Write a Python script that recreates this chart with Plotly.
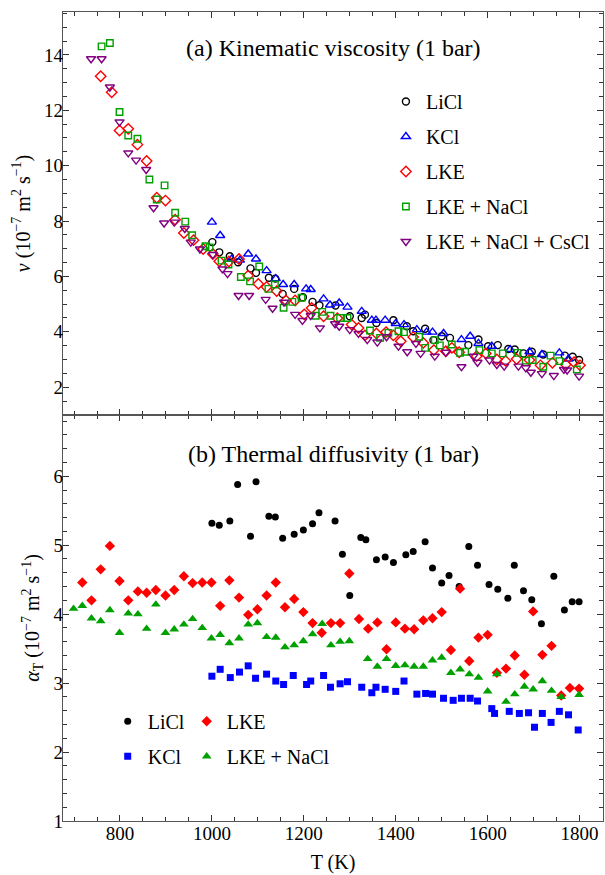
import plotly.graph_objects as go

# ---------------- data: (a) kinematic viscosity ----------------
licl_nu_T = [1001, 1016, 1039, 1057, 1084, 1096, 1124, 1138, 1154, 1179, 1198, 1219, 1234, 1269, 1300, 1326, 1333, 1358, 1395, 1424, 1438, 1464, 1482, 1500, 1518, 1558, 1580, 1601, 1622, 1645, 1659, 1678, 1696, 1721, 1768, 1785, 1799]
licl_nu = [7.24, 6.87, 6.73, 6.51, 6.29, 6.13, 5.95, 5.92, 5.37, 5.55, 5.25, 5.08, 4.96, 4.95, 4.56, 4.50, 4.62, 4.32, 4.42, 4.20, 4.02, 4.11, 3.70, 3.84, 3.78, 3.52, 3.72, 3.48, 3.52, 3.38, 3.36, 3.22, 3.28, 3.18, 3.14, 3.10, 2.98]

kcl_nu_T = [1000, 1018, 1043, 1061, 1079, 1096, 1119, 1139, 1155, 1179, 1205, 1215, 1243, 1257, 1277, 1295, 1326, 1348, 1357, 1377, 1400, 1418, 1446, 1467, 1480, 1504, 1543, 1562, 1580, 1609, 1649, 1691, 1718, 1756, 1776]
kcl_nu = [7.96, 7.48, 6.63, 6.59, 6.81, 6.63, 6.21, 5.92, 5.71, 5.71, 5.55, 5.53, 5.19, 4.97, 5.04, 4.89, 4.74, 4.42, 4.42, 4.42, 4.30, 4.26, 4.08, 3.99, 3.99, 3.94, 3.72, 3.84, 3.58, 3.48, 3.36, 3.28, 3.18, 3.24, 3.02]

lke_nu_T = [758, 782, 799, 818, 838, 858, 880, 899, 920, 939, 960, 981, 1002, 1016, 1037, 1059, 1079, 1101, 1119, 1141, 1161, 1181, 1201, 1217, 1243, 1273, 1304, 1319, 1333, 1358, 1379, 1395, 1411, 1438, 1460, 1483, 1509, 1522, 1538, 1576, 1596, 1620, 1639, 1663, 1691, 1715, 1741, 1770, 1788, 1801]
lke_nu = [13.23, 12.65, 11.27, 11.33, 10.76, 10.17, 8.84, 8.74, 8.05, 7.57, 7.31, 6.99, 6.81, 6.55, 6.54, 6.63, 6.03, 5.73, 5.62, 5.47, 5.13, 5.13, 4.63, 4.86, 4.56, 4.49, 4.26, 4.14, 3.87, 3.94, 3.99, 3.87, 3.66, 3.81, 3.60, 3.34, 3.30, 3.42, 3.26, 3.12, 3.22, 3.00, 2.95, 3.02, 2.98, 2.79, 2.88, 2.82, 2.90, 2.79]

lkena_nu_T = [760, 778, 799, 818, 838, 864, 880, 897, 920, 942, 957, 986, 995, 1021, 1036, 1063, 1083, 1103, 1123, 1137, 1156, 1175, 1195, 1226, 1240, 1258, 1279, 1295, 1344, 1366, 1384, 1406, 1418, 1451, 1464, 1485, 1496, 1522, 1540, 1551, 1582, 1609, 1633, 1665, 1683, 1698, 1721, 1737, 1756, 1794]
lkena_nu = [14.31, 14.43, 11.94, 11.09, 10.97, 9.50, 8.78, 9.29, 8.30, 7.98, 7.49, 7.09, 7.05, 6.57, 6.43, 5.98, 5.82, 6.36, 5.55, 5.71, 4.87, 5.08, 5.23, 4.58, 4.72, 4.58, 4.50, 4.50, 4.05, 3.78, 3.96, 4.02, 3.99, 3.82, 3.42, 3.70, 3.51, 3.54, 3.24, 3.28, 3.34, 3.22, 3.22, 3.24, 2.96, 2.98, 2.74, 3.14, 2.94, 2.64]

lkecs_nu_T = [737, 760, 778, 799, 818, 835, 857, 873, 896, 918, 941, 954, 974, 1002, 1023, 1034, 1058, 1081, 1117, 1132, 1157, 1181, 1197, 1215, 1235, 1268, 1277, 1300, 1319, 1338, 1360, 1380, 1406, 1425, 1444, 1454, 1485, 1509, 1543, 1569, 1578, 1604, 1620, 1636, 1667, 1683, 1694, 1718, 1744, 1766, 1773, 1799]
lkecs_nu = [13.86, 13.86, 12.84, 11.58, 10.46, 10.20, 9.86, 8.48, 7.93, 7.96, 7.73, 7.24, 6.99, 6.79, 6.27, 6.10, 5.31, 5.31, 5.17, 4.85, 5.07, 4.63, 4.41, 4.59, 4.14, 4.29, 4.20, 4.08, 3.94, 3.72, 3.63, 3.82, 3.48, 3.28, 3.58, 3.22, 3.12, 3.26, 2.74, 3.12, 2.90, 2.98, 2.82, 2.76, 2.76, 2.70, 2.54, 2.49, 2.42, 2.64, 2.62, 2.40]

# ---------------- data: (b) thermal diffusivity ----------------
licl_a_T = [1000, 1016, 1039, 1056, 1084, 1096, 1124, 1138, 1154, 1179, 1199, 1219, 1233, 1268, 1284, 1300, 1324, 1335, 1358, 1377, 1395, 1422, 1438, 1464, 1480, 1500, 1516, 1538, 1559, 1578, 1603, 1622, 1644, 1658, 1678, 1696, 1717, 1744, 1767, 1784, 1799]
licl_a = [5.32, 5.29, 5.35, 5.88, 5.13, 5.92, 5.42, 5.41, 5.10, 5.16, 5.22, 5.31, 5.47, 5.35, 4.87, 4.27, 5.11, 5.08, 4.79, 4.83, 4.75, 4.86, 4.91, 5.05, 4.67, 4.45, 4.56, 4.40, 4.98, 4.71, 4.43, 4.36, 4.23, 4.71, 4.34, 4.21, 3.86, 4.55, 4.06, 4.18, 4.18]

kcl_a_T = [1000, 1018, 1040, 1060, 1079, 1095, 1119, 1139, 1156, 1177, 1206, 1215, 1243, 1258, 1279, 1295, 1326, 1348, 1357, 1377, 1400, 1418, 1446, 1465, 1480, 1504, 1525, 1543, 1562, 1578, 1609, 1615, 1647, 1669, 1689, 1702, 1719, 1738, 1756, 1776, 1797]
kcl_a = [3.10, 3.20, 3.08, 3.16, 3.25, 3.07, 3.13, 3.03, 2.98, 3.11, 2.98, 3.03, 3.11, 2.94, 2.99, 3.02, 2.94, 2.86, 2.94, 2.91, 2.88, 3.03, 2.84, 2.85, 2.84, 2.78, 2.75, 2.78, 2.78, 2.74, 2.63, 2.56, 2.59, 2.56, 2.57, 2.36, 2.56, 2.43, 2.59, 2.54, 2.32]

lke_a_T = [718, 738, 758, 778, 799, 818, 839, 858, 878, 899, 918, 939, 958, 979, 999, 1018, 1038, 1059, 1079, 1099, 1119, 1139, 1159, 1179, 1199, 1219, 1239, 1259, 1279, 1299, 1320, 1340, 1360, 1380, 1400, 1420, 1440, 1460, 1480, 1500, 1520, 1540, 1560, 1580, 1600, 1620, 1640, 1659, 1680, 1699, 1719, 1739, 1760, 1779, 1799]
lke_a = [4.46, 4.20, 4.65, 4.99, 4.48, 4.20, 4.33, 4.31, 4.35, 4.27, 4.35, 4.55, 4.45, 4.46, 4.46, 4.12, 4.49, 4.24, 3.99, 4.07, 4.27, 4.46, 4.10, 4.22, 4.03, 3.87, 3.73, 3.87, 3.87, 4.59, 3.93, 3.79, 3.88, 3.49, 3.88, 3.79, 3.78, 3.91, 3.94, 4.03, 3.48, 4.37, 3.32, 3.66, 3.70, 3.15, 3.21, 3.40, 3.12, 4.04, 3.41, 3.54, 2.82, 2.93, 2.92]

lkena_a_T = [699, 718, 738, 758, 778, 799, 818, 839, 858, 878, 899, 918, 939, 958, 979, 999, 1018, 1038, 1059, 1079, 1099, 1119, 1139, 1159, 1179, 1199, 1219, 1240, 1259, 1279, 1299, 1339, 1360, 1380, 1400, 1420, 1440, 1460, 1480, 1500, 1520, 1540, 1560, 1580, 1600, 1620, 1640, 1659, 1680, 1699, 1719, 1739, 1760, 1799]
lkena_a = [4.08, 4.12, 3.94, 3.90, 4.06, 3.73, 4.01, 4.00, 3.79, 4.14, 3.73, 3.78, 3.85, 3.93, 3.80, 3.65, 3.70, 3.58, 3.65, 3.85, 3.87, 3.67, 3.66, 3.52, 3.55, 3.61, 3.71, 3.86, 3.55, 3.60, 3.61, 3.35, 3.24, 3.35, 3.25, 3.26, 3.24, 3.24, 3.33, 3.37, 3.15, 3.20, 3.13, 3.08, 2.88, 3.13, 2.73, 2.84, 2.95, 2.91, 3.03, 2.89, 2.80, 2.83]

x_ticks = [800, 1000, 1200, 1400, 1600, 1800]
nu_ticks = [2, 4, 6, 8, 10, 12, 14]
a_ticks = [1, 2, 3, 4, 5, 6]

BLACK, BLUE, RED, GREEN, PURPLE = "#000000", "#0000ff", "#ff0000", "#00a000", "#800080"
FONT = "Liberation Serif, Times New Roman, serif"
LW = 1.4
LEG_FONT = 20

fig = go.Figure()

def open_tr(x, y, name, sym, col, size):
    return go.Scatter(x=x, y=y, mode="markers", name=name, xaxis="x2", yaxis="y2",
                      marker=dict(symbol=sym, size=size, color=col,
                                  line=dict(color=col, width=LW)),
                      legend="legend", legendgroup="a_" + name)

fig.add_trace(open_tr(licl_nu_T, licl_nu, "LiCl", "circle-open", BLACK, 7))
fig.add_trace(open_tr(kcl_nu_T, kcl_nu, "KCl", "triangle-up-open", BLUE, 8))
fig.add_trace(open_tr(lke_nu_T, lke_nu, "LKE", "diamond-open", RED, 8))
fig.add_trace(open_tr(lkena_nu_T, lkena_nu, "LKE + NaCl", "square-open", GREEN, 6.5))
fig.add_trace(open_tr(lkecs_nu_T, lkecs_nu, "LKE + NaCl + CsCl", "triangle-down-open", PURPLE, 8))

def fill_tr(x, y, name, sym, col, size, leg):
    return go.Scatter(x=x, y=y, mode="markers", name=name, xaxis="x", yaxis="y",
                      marker=dict(symbol=sym, size=size, color=col, line=dict(width=0)),
                      legend=leg, legendgroup="b_" + name)

fig.add_trace(fill_tr(licl_a_T, licl_a, "LiCl", "circle", BLACK, 7, "legend2"))
fig.add_trace(fill_tr(kcl_a_T, kcl_a, "KCl", "square", BLUE, 7, "legend2"))
fig.add_trace(fill_tr(lke_a_T, lke_a, "LKE", "diamond", RED, 8, "legend3"))
fig.add_trace(fill_tr(lkena_a_T, lkena_a, "LKE + NaCl", "triangle-up", GREEN, 8.5, "legend3"))

axis_common = dict(showline=True, linecolor="#555555", linewidth=1.3, mirror="ticks",
                   ticks="inside", tickcolor="#333333", ticklen=6, tickwidth=1,
                   showgrid=False, zeroline=False,
                   tickfont=dict(family=FONT, size=19, color="black"))

leg_common = dict(xanchor="left", yanchor="top", bgcolor="rgba(0,0,0,0)",
                  font=dict(family=FONT, size=LEG_FONT), orientation="v", tracegroupgap=6)

fig.update_layout(
    width=605, height=875,
    margin=dict(l=63, r=2, t=12, b=54),
    paper_bgcolor="white", plot_bgcolor="white",
    font=dict(family=FONT, color="black"),
    xaxis=dict(domain=[0, 1], anchor="y", range=[676, 1851], tickvals=x_ticks,
               ticklabelstandoff=-5,
               minor=dict(dtick=50, tick0=0, ticks="inside", ticklen=3.5, tickcolor="#333333"),
               title=dict(text="T (K)", font=dict(family=FONT, size=20), standoff=12),
               **axis_common),
    yaxis=dict(domain=[0, 0.502], anchor="x", range=[1, 6.89], tickvals=a_ticks,
               ticklabelstandoff=-5,
               minor=dict(dtick=0.2, tick0=0, ticks="inside", ticklen=3.5, tickcolor="#333333"),
               title=dict(text="<i>α</i><sub>T</sub> (10<sup>−7</sup> m<sup>2</sup> s<sup>−1</sup>)",
                          font=dict(family=FONT, size=20), standoff=8),
               **axis_common),
    xaxis2=dict(domain=[0, 1], anchor="y2", matches="x", range=[676, 1851], tickvals=x_ticks,
                showticklabels=False,
                minor=dict(dtick=50, tick0=0, ticks="inside", ticklen=3.5, tickcolor="#333333"),
                **axis_common),
    yaxis2=dict(domain=[0.502, 1], anchor="x2", range=[1, 15.55], tickvals=nu_ticks,
                ticklabelstandoff=-5,
                minor=dict(dtick=0.5, tick0=0, ticks="inside", ticklen=3.5, tickcolor="#333333"),
                title=dict(text="<i>ν</i> (10<sup>−7</sup> m<sup>2</sup> s<sup>−1</sup>)",
                           font=dict(family=FONT, size=20), standoff=8),
                **axis_common),
    legend=dict(x=0.598, y=0.9135, **leg_common),
    legend2=dict(x=0.0828, y=0.1474, **leg_common),
    legend3=dict(x=0.2291, y=0.1474, **leg_common),
    annotations=[
        dict(text="(a) Kinematic viscosity (1 bar)", x=0.5, y=0.955, xref="paper", yref="paper",
             xanchor="center", yanchor="middle", showarrow=False, font=dict(family=FONT, size=24)),
        dict(text="(b) Thermal diffusivity (1 bar)", x=0.5, y=0.454, xref="paper", yref="paper",
             xanchor="center", yanchor="middle", showarrow=False, font=dict(family=FONT, size=24)),
    ],
)

fig.write_html("out.html", config={"displayModeBar": False},
               post_script="document.body.style.margin='0';")
